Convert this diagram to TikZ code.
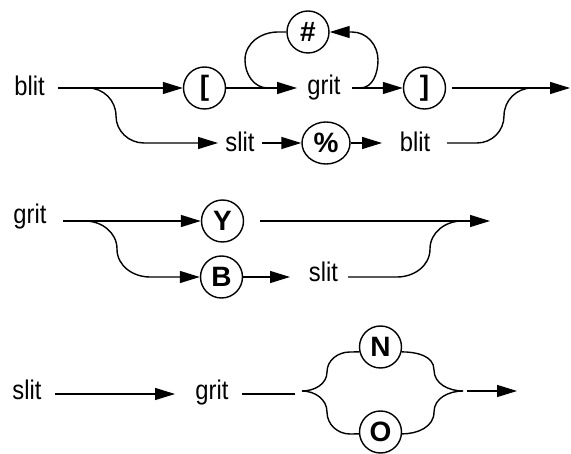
\documentclass[tikz,border=0pt]{standalone}
\usepackage{fontspec}
\setmainfont{Liberation Sans}
\newfontfamily\railfont[FakeStretch=0.88]{Liberation Sans}
\usetikzlibrary{arrows.meta,shapes.geometric}
\tikzset{
  lbl/.style={inner sep=0pt, anchor=base, font=\railfont\fontsize{27}{27}\selectfont},
  term/.style={circle, draw, line width=1.4pt, minimum size=42pt, inner sep=0pt,
    font=\bfseries\fontsize{28}{28}\selectfont},
  wide/.style={ellipse, draw, line width=1.4pt, minimum width=48pt, minimum height=42pt, inner sep=0pt,
    font=\bfseries\fontsize{28}{28}\selectfont},
  rail/.style={line width=1.4pt},
  arr/.style={rail, -{Triangle[length=20pt,width=12pt]}}
}
\begin{document}
\begin{tikzpicture}[x=1pt,y=1pt]
\useasboundingbox (0,0) rectangle (571,-454);
% ---- row 1
\node[lbl] (blitA) at (29.5,-96) {blit};
\node[term] (lb) at (204.5,-88) {[};
\node[lbl] (gritA) at (324,-95) {grit};
\node[term] (hash) at (308,-32) {\#};
\node[term] (rb) at (424.5,-88) {]};
\node[lbl] (slitA) at (240,-152) {slit};
\node[wide] (pct) at (326,-143) {\%};
\node[lbl] (blitB) at (415,-152) {blit};
\coordinate (a0) at (58,-88);
\coordinate (a1) at (88,-88);
\coordinate (a2) at (297,-88);
\coordinate (a3) at (352,-88);
\coordinate (a4) at (452,-88);
\coordinate (a5) at (570,-88);
\coordinate (a6) at (218,-143);
\coordinate (a7) at (262,-143);
\coordinate (a8) at (382,-143);
\coordinate (a9) at (447,-143);
\draw[arr] (a0) -- (lb.west);
\draw[arr] (a1) to[out=0,in=90] (116,-116) to[out=-90,in=180] (144,-143) -- (a6);
\draw[arr] (lb.east) -- (a2);
\draw[rail] (hash.west) -- (278,-32) to[out=180,in=90] (245,-60) to[out=-90,in=180] (268,-88);
\draw[arr] (360,-88) to[out=0,in=-90] (378,-60) to[out=90,in=0] (352,-32) -- (hash.east);
\draw[arr] (a3) -- (rb.west);
\draw[arr] (a4) -- (a5);
\draw[arr] (a7) -- (pct.west);
\draw[arr] (pct.east) -- (a8);
\draw[rail] (a9) -- (477,-143) to[out=0,in=-90] (504,-116) to[out=90,in=180] (532,-88);
% ---- row 2
\node[lbl] (gritB) at (30,-224) {grit};
\node[term] (Y) at (222.5,-221) {Y};
\node[term] (B) at (221.5,-277) {B};
\node[lbl] (slitB) at (323.5,-282) {slit};
\coordinate (b0) at (63,-221);
\coordinate (b1) at (85,-221);
\coordinate (b2) at (260,-221);
\coordinate (b3) at (490,-221);
\coordinate (b4) at (290,-277);
\coordinate (b5) at (348,-277);
\draw[arr] (b0) -- (Y.west);
\draw[arr] (b1) to[out=0,in=90] (117,-249) to[out=-90,in=180] (150,-277) -- (B.west);
\draw[arr] (b2) -- (b3);
\draw[arr] (B.east) -- (b4);
\draw[rail] (b5) -- (397,-277) to[out=0,in=-90] (430,-249) to[out=90,in=180] (462,-221);
% ---- row 3
\node[lbl] (slitC) at (27,-400) {slit};
\node[lbl] (gritC) at (212,-400) {grit};
\node[term] (N) at (380.5,-347) {N};
\node[term] (O) at (380.5,-432) {O};
\coordinate (c0) at (55,-394);
\coordinate (c1) at (175,-394);
\coordinate (c2) at (242,-394);
\coordinate (c3) at (295,-394);
\coordinate (fork) at (302,-391);
\coordinate (join) at (463,-391);
\coordinate (c4) at (467,-391);
\coordinate (c5) at (517,-391);
\draw[arr] (c0) -- (c1);
\draw[rail] (c2) -- (c3);
\draw[rail] (fork) to[out=0,in=-90] (327,-372) to[out=90,in=180] (350,-352) -- (N.193);
\draw[rail] (fork) to[out=0,in=90] (327,-412) to[out=-90,in=180] (350,-434) -- (O.185);
\draw[rail] (N.-13) to[out=0,in=90] (434,-370) to[out=-90,in=180] (join);
\draw[rail] (O.-5) to[out=0,in=-90] (434,-412) to[out=90,in=180] (join);
\draw[arr] (c4) -- (c5);
\end{tikzpicture}
\end{document}
